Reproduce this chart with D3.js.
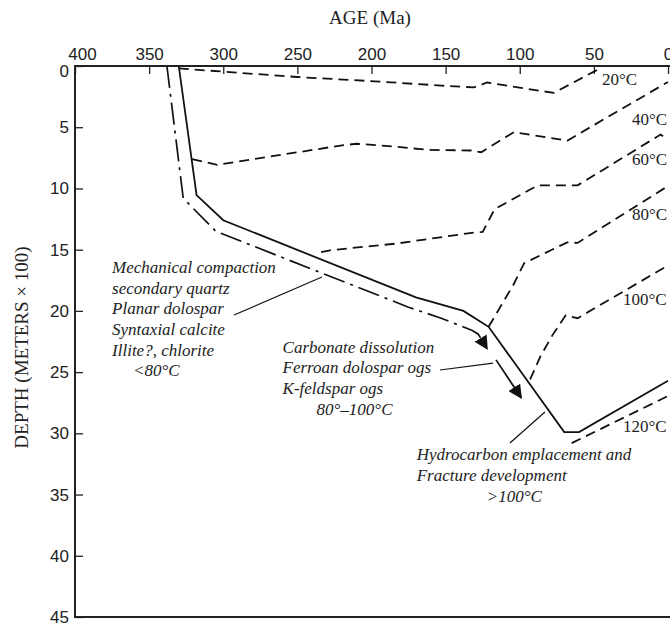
<!DOCTYPE html>
<html>
<head>
<meta charset="utf-8">
<script src="https://cdn.jsdelivr.net/npm/d3@7"></script>
<style>
  body { margin: 0; background: #fff; }
  svg { display: block; font-family: 'Liberation Serif', 'DejaVu Serif', serif; }
  .tick text { font-size: 17px; fill: #222; }
  .note { font-size: 17px; font-style: italic; fill: #222; }
  .iso-label { font-size: 17px; fill: #222; }
  .axis-title { font-size: 19px; fill: #222; }
</style>
</head>
<body>
<svg width="670" height="634"></svg>
<script>
// ages in Ma, depths in metres x 100
const ageTicks = [400, 350, 300, 250, 200, 150, 100, 50, 0];
const depthTicks = [0, 5, 10, 15, 20, 25, 30, 35, 40, 45];

const burial = [[330, 0], [318, 10.55], [300, 12.6], [170, 18.9], [138, 20], [121, 21.3],
  [70, 29.9], [60, 29.9], [0, 25.7]];
const burialOffset = [[338, 0], [327, 10.8], [305, 13.5], [175, 19.7], [153, 20.6],
  [132, 21.6], [128, 21.9], [122, 23.1]];
const burialArrow = [[116, 24], [99, 27.1]];

const iso20 = [[330, 0.2], [250, 0.9], [198, 1.25], [153, 1.6], [131, 1.75], [122, 1.35],
  [77, 2.2], [47.5, 0.3]];
const iso40 = [[321, 7.6], [304, 8.07], [221, 6.5], [210, 6.35], [183, 6.6], [162, 6.85],
  [133, 6.9], [126, 7.04], [104, 5.4], [68, 6.1], [0, 1.3]];
const iso60 = [[234, 15.2], [228, 15.05], [183, 14.5], [131, 13.6], [125, 13.55], [117, 11.7],
  [88, 9.75], [61, 9.75], [5, 5.6], [0, 6.0]];
const iso80 = [[121, 21.3], [104, 17.8], [97, 16.1], [68, 14.4], [61, 14.45], [0, 9.8]];
const iso100 = [[93, 25.6], [86, 23.7], [78, 22], [69, 20.35], [61, 20.6], [3, 16.5], [0, 16.9]];
const iso120 = [[65, 30.8], [0, 26.95]];

const isoNames = ['20°C', '40°C', '60°C', '80°C', '100°C', '120°C'];
const isoLabelAt = [[44.5, 1.55], [24.3, 4.82], [24.3, 8.1], [24.3, 12.6], [30.4, 19.5], [30.4, 29.9]];

const notes = [
  { at: [375, 16.9], lines: ['Mechanical compaction', 'secondary quartz', 'Planar dolospar',
    'Syntaxial calcite', 'Illite?, chlorite', '<80°C'], indentLast: 21,
    leader: [[292.7, 20.34], [233.4, 17.23]] },
  { at: [260, 23.4], lines: ['Carbonate dissolution', 'Ferroan dolospar ogs', 'K-feldspar ogs',
    '80°–100°C'], indentLast: 34, leader: [[153.8, 24.83], [118, 24.26]] },
  { at: [169.5, 32.2], lines: ['Hydrocarbon emplacement and', 'Fracture development', '>100°C'],
    indentLast: 70, leader: [[106.6, 30.79], [83, 28.26]] }
];

const svg = d3.select('svg');
const width = +svg.attr('width');

const x = d3.scaleLinear().domain([400, 0]).range([75, 668]);
const y = d3.scaleLinear().domain([0, 45]).range([66, 617]);

const line = d3.line().x(d => x(d[0])).y(d => y(d[1]));

svg.append('defs').append('marker')
    .attr('id', 'head')
    .attr('viewBox', '0 0 10 10')
    .attr('refX', 9).attr('refY', 5)
    .attr('markerWidth', 14).attr('markerHeight', 14)
    .attr('markerUnits', 'userSpaceOnUse')
    .attr('orient', 'auto')
  .append('path')
    .attr('d', 'M0,0 L10,5 L0,10 Z')
    .attr('fill', '#111');

// axes
const xAxisG = svg.append('g')
    .attr('transform', `translate(0,${y(0)})`)
    .call(d3.axisTop(x).tickValues(ageTicks).tickSizeInner(-8).tickSizeOuter(0).tickPadding(6));
xAxisG.select('.domain').remove();
xAxisG.selectAll('.tick line').attr('stroke', '#222').attr('stroke-width', 1.3);
xAxisG.selectAll('.tick text').filter(d => d === 400).attr('dx', 7);

const yAxisG = svg.append('g')
    .attr('transform', `translate(${x(400)},0)`)
    .call(d3.axisLeft(y).tickValues(depthTicks).tickSizeInner(-8).tickSizeOuter(0).tickPadding(6));
yAxisG.select('.domain').remove();
yAxisG.selectAll('.tick line').attr('stroke', '#222').attr('stroke-width', 1.3);
yAxisG.selectAll('.tick text').attr('x', -6).filter(d => d === 0).attr('dy', '0.6em');

svg.append('path')
    .attr('d', `M${width + 5},${y(0)} H${x(400)} V${y(45)} H${width + 5}`)
    .attr('fill', 'none')
    .attr('stroke', '#222')
    .attr('stroke-width', 2);

svg.append('text')
    .attr('class', 'axis-title')
    .attr('x', 370).attr('y', 24)
    .attr('text-anchor', 'middle')
    .text('AGE (Ma)');

svg.append('text')
    .attr('class', 'axis-title')
    .attr('transform', `translate(28,${(y(0) + y(45)) / 2 + 6}) rotate(-90)`)
    .attr('text-anchor', 'middle')
    .text('DEPTH (METERS × 100)');

// isotherms
const isotherms = [iso20, iso40, iso60, iso80, iso100, iso120];
svg.append('g').selectAll('path')
  .data(isotherms)
  .join('path')
    .attr('d', line)
    .attr('fill', 'none')
    .attr('stroke', '#111')
    .attr('stroke-width', 1.8)
    .attr('stroke-dasharray', '10,6');

svg.append('g').selectAll('text')
  .data(isoNames)
  .join('text')
    .attr('class', 'iso-label')
    .attr('x', (d, i) => x(isoLabelAt[i][0]))
    .attr('y', (d, i) => y(isoLabelAt[i][1]))
    .text(d => d);

// burial curves
svg.append('path')
    .attr('d', line(burial))
    .attr('fill', 'none')
    .attr('stroke', '#111')
    .attr('stroke-width', 1.8);

svg.append('path')
    .attr('d', line(burialOffset))
    .attr('fill', 'none')
    .attr('stroke', '#111')
    .attr('stroke-width', 1.7)
    .attr('stroke-dasharray', '22,6,3,6')
    .attr('marker-end', 'url(#head)');

svg.append('path')
    .attr('d', line(burialArrow))
    .attr('fill', 'none')
    .attr('stroke', '#111')
    .attr('stroke-width', 1.7)
    .attr('marker-end', 'url(#head)');

// annotations
const lineHeight = 20.7;
notes.forEach(n => {
  const t = svg.append('text').attr('class', 'note');
  n.lines.forEach((s, i) => {
    t.append('tspan')
      .attr('x', x(n.at[0]) + (i === n.lines.length - 1 ? n.indentLast : 0))
      .attr('y', y(n.at[1]) + i * lineHeight)
      .text(s);
  });
  svg.append('path')
    .attr('d', line(n.leader))
    .attr('stroke', '#111')
    .attr('stroke-width', 1.2);
});
</script>
</body>
</html>
